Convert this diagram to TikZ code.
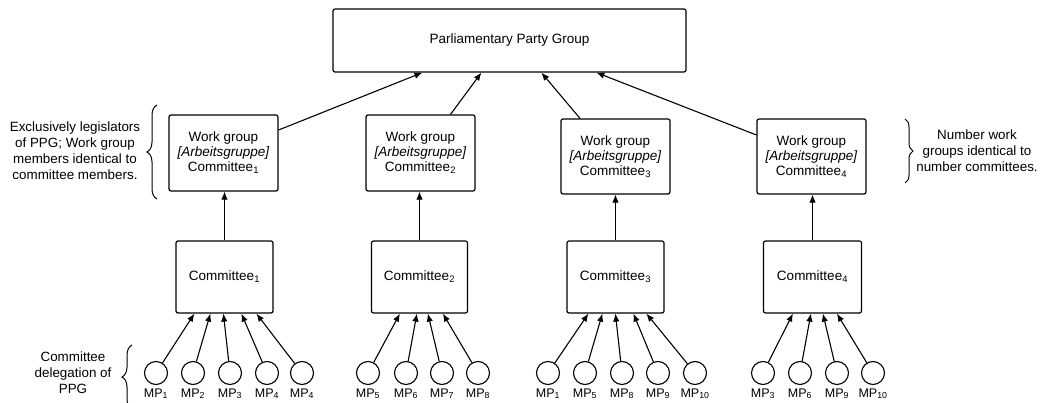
\documentclass[tikz,border=0pt]{standalone}
\usepackage{fontspec}
\setmainfont{Liberation Sans}
\usetikzlibrary{arrows.meta,decorations.pathreplacing,calc}
\tikzset{
  box/.style={draw, rounded corners=2pt, line width=1.2pt, align=center, inner sep=0pt,
    font=\fontsize{13.5}{15}\selectfont},
  arr/.style={line width=1.1pt, -{Latex[length=8pt,width=6.5pt]}},
  mpnode/.style={draw, circle, line width=1.1pt, minimum size=23pt, inner sep=0pt},
  mplabel/.style={anchor=base, inner sep=0pt, font=\fontsize{12.5}{13}\selectfont},
  note/.style={align=center, inner sep=0pt, font=\fontsize{13.4}{16}\selectfont},
  bracedeco/.style={decorate, line width=1pt, decoration={brace, amplitude=#1}},
}
\begin{document}
\begin{tikzpicture}[x=1pt, y=-1pt]
\useasboundingbox (0,0) rectangle (1042,403);
\clip (0,0) rectangle (1042,403);

% top
\node[box, minimum width=353pt, minimum height=63pt] (ppg) at (509.5,40.5) {Parliamentary Party Group};

% work groups
\node[box, minimum width=109pt, minimum height=76pt] (wg1) at (223.5,153) {Work group\\\textit{[Arbeitsgruppe]}\\Committee\textsubscript{1}};
\node[box, minimum width=109pt, minimum height=76pt] (wg2) at (420.5,153) {Work group\\\textit{[Arbeitsgruppe]}\\Committee\textsubscript{2}};
\node[box, minimum width=109pt, minimum height=75pt] (wg3) at (615.5,156.5) {Work group\\\textit{[Arbeitsgruppe]}\\Committee\textsubscript{3}};
\node[box, minimum width=109pt, minimum height=75pt] (wg4) at (811.5,156.5) {Work group\\\textit{[Arbeitsgruppe]}\\Committee\textsubscript{4}};

% committees
\node[box, minimum width=97pt, minimum height=72pt] (c1) at (224.5,277) {Committee\textsubscript{1}};
\node[box, minimum width=96pt, minimum height=72pt] (c2) at (419.5,277) {Committee\textsubscript{2}};
\node[box, minimum width=97pt, minimum height=72pt] (c3) at (615.5,277) {Committee\textsubscript{3}};
\node[box, minimum width=98pt, minimum height=72pt] (c4) at (812.5,277) {Committee\textsubscript{4}};

% work groups -> PPG
\draw[arr] ([yshift=23pt]wg1.east) -- ([xshift=90pt]ppg.south west);
\draw[arr] ([xshift=30pt]wg2.north) -- ([xshift=149pt]ppg.south west);
\draw[arr] ([xshift=-35.5pt]wg3.north) -- ([xshift=209pt]ppg.south west);
\draw[arr] ([yshift=21.5pt]wg4.west) -- ([xshift=264pt]ppg.south west);

% committees -> work groups
\foreach \k in {1,2,3,4}{
  \draw[arr] (c\k.north) -- (c\k.north |- wg\k.south);
}

% MPs
\foreach \x/\s/\o [count=\i] in {156/1/19, 193/2/35, 230/3/48, 267/4/66, 302/4/81}{
  \node[mpnode] (ma\i) at (\x,373) {};
  \node[mplabel] (ma\i l) at (\x,397) {MP\textsubscript{\s}};
  \draw[arr] (ma\i) -- ([xshift=\o pt]c1.south west);
}
\foreach \x/\s/\o [count=\i] in {368/5/29, 406/6/46, 442/7/57, 478/8/72}{
  \node[mpnode] (mb\i) at (\x,373) {};
  \node[mplabel] (mb\i l) at (\x,397) {MP\textsubscript{\s}};
  \draw[arr] (mb\i) -- ([xshift=\o pt]c2.south west);
}
\foreach \x/\s/\o [count=\i] in {548/1/22, 585/5/36, 622/8/49, 658/9/67, 695/10/80}{
  \node[mpnode] (mc\i) at (\x,373) {};
  \node[mplabel] (mc\i l) at (\x,397) {MP\textsubscript{\s}};
  \draw[arr] (mc\i) -- ([xshift=\o pt]c3.south west);
}
\foreach \x/\s/\o [count=\i] in {763/3/30, 800/6/48, 837/9/60, 873/10/74}{
  \node[mpnode] (md\i) at (\x,373) {};
  \node[mplabel] (md\i l) at (\x,397) {MP\textsubscript{\s}};
  \draw[arr] (md\i) -- ([xshift=\o pt]c4.south west);
}

% notes and braces
\node[note] (nleft) at (75,151) {Exclusively legislators\\of PPG; Work group\\members identical to\\committee members.};
\coordinate (bl1) at (157,199);
\coordinate (bl2) at (157,105);
\draw[bracedeco=10pt] (bl1) -- (bl2);

\node[note] (nright) at (977,151) {Number work\\groups identical to\\number committees.};
\coordinate (br1) at (905,119);
\coordinate (br2) at (905,183);
\draw[bracedeco=8pt] (br1) -- (br2);

\node[note] (nbottom) at (73,373) {Committee\\delegation of\\PPG};
\coordinate (bb1) at (132,409);
\coordinate (bb2) at (132,345);
\draw[bracedeco=10pt] (bb1) -- (bb2);
\end{tikzpicture}
\end{document}
